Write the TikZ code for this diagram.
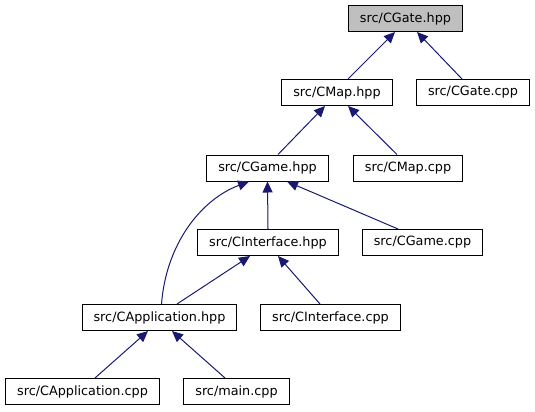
\documentclass[tikz,border=0pt]{standalone}
\usepackage{fontspec}
\setmainfont{DejaVu Sans}
\usetikzlibrary{arrows.meta}
\definecolor{edgeblue}{RGB}{25,25,112}

\begin{document}
\begin{tikzpicture}[x=1bp, y=-1bp, font=\fontsize{12.8bp}{15bp}\selectfont,
  file/.style={draw=black, line width=1bp, inner xsep=11.5bp, inner ysep=0pt, minimum height=26bp, fill=white},
  current/.style={file, fill=gray!50},
  dep/.style={draw=edgeblue, line width=1bp, -{Triangle[length=11bp, width=10bp]}}]
\useasboundingbox (0,0) rectangle (535,411);
% header and its includers
\node[current] (cgateh) at (405.5,18.5) {src/CGate.hpp};
\node[file] (cmaph) at (337,92.5) {src/CMap.hpp};
\node[file] (cgatecpp) at (473,92.5) {src/CGate.cpp};
\node[file] (cgameh) at (267.5,168) {src/CGame.hpp};
\node[file] (cmapcpp) at (408,168) {src/CMap.cpp};
\node[file] (cinth) at (268,242.5) {src/CInterface.hpp};
\node[file] (cgamecpp) at (422.5,242.5) {src/CGame.cpp};
\node[file] (capph) at (159.5,317.5) {src/CApplication.hpp};
\node[file] (cintcpp) at (330.5,317.5) {src/CInterface.cpp};
\node[file] (cappcpp) at (82.5,391.5) {src/CApplication.cpp};
\node[file] (maincpp) at (236.5,391.5) {src/main.cpp};
% include edges
\draw[dep] ([xshift=11bp]cmaph.north) -- ([xshift=-10.5bp]cgateh.south);
\draw[dep] ([xshift=-11bp]cgatecpp.north) -- ([xshift=11.5bp]cgateh.south);
\draw[dep] ([xshift=10.5bp]cgameh.north) -- ([xshift=-12bp]cmaph.south);
\draw[dep] ([xshift=-11bp]cmapcpp.north) -- ([xshift=11bp]cmaph.south);
\draw[dep] (cinth.north) -- (cgameh.south);
\draw[dep] ([xshift=-24.5bp]cgamecpp.north) -- ([xshift=19.5bp]cgameh.south);
\draw[dep] ([xshift=2bp]capph.north) .. controls (166,245) and (200,200) .. ([xshift=-18.5bp]cgameh.south);
\draw[dep] ([xshift=17.5bp]capph.north) -- ([xshift=-18bp]cinth.south);
\draw[dep] ([xshift=-10.5bp]cintcpp.north) -- ([xshift=10bp]cinth.south);
\draw[dep] ([xshift=12.5bp]cappcpp.north) -- ([xshift=-11.5bp]capph.south);
\draw[dep] ([xshift=-11.5bp]maincpp.north) -- ([xshift=12.5bp]capph.south);
\end{tikzpicture}
\end{document}
